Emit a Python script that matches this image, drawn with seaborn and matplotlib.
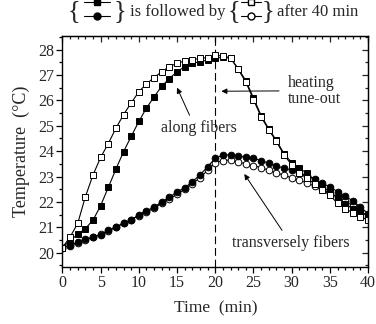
import matplotlib
matplotlib.use("Agg")
import matplotlib.pyplot as plt
from matplotlib.lines import Line2D
from matplotlib.ticker import MultipleLocator
import seaborn as sns

# time axis (min) and temperatures (deg C)
time_min = list(range(41))

along_first = [20.2, 20.48, 20.72, 20.95, 21.28, 21.85, 22.57, 23.29, 23.98, 24.58,
               25.17, 25.7, 26.14, 26.56, 26.86, 27.13, 27.33, 27.46, 27.52, 27.59,
               27.66, 27.7, 27.66, 27.25, 26.78, 26.1, 25.4, 24.88, 24.42, 23.9,
               23.55, 23.33, 23.13, 22.86, 22.6, 22.4, 22.14, 21.91, 21.74, 21.61, 21.44]
along_after = [20.2, 20.62, 21.15, 22.2, 23.06, 23.75, 24.3, 24.9, 25.44, 25.9,
               26.34, 26.65, 26.9, 27.13, 27.33, 27.46, 27.55, 27.59, 27.66, 27.68,
               27.77, 27.75, 27.68, 27.22, 26.72, 26.03, 25.35, 24.84, 24.38, 23.85,
               23.46, 23.13, 22.95, 22.7, 22.47, 22.27, 21.94, 21.74, 21.57, 21.41, 21.28]
trans_first = [20.2, 20.26, 20.42, 20.53, 20.62, 20.71, 20.88, 21.01, 21.17, 21.28,
               21.5, 21.65, 21.8, 22.0, 22.18, 22.4, 22.55, 22.8, 23.06, 23.39,
               23.72, 23.85, 23.85, 23.81, 23.76, 23.72, 23.63, 23.52, 23.42, 23.33,
               23.26, 23.15, 23.02, 22.89, 22.73, 22.6, 22.4, 22.23, 22.04, 21.8, 21.54]
trans_after = [20.2, 20.3, 20.38, 20.5, 20.6, 20.72, 20.85, 21.0, 21.15, 21.3,
               21.45, 21.6, 21.75, 21.95, 22.12, 22.3, 22.5, 22.72, 22.95, 23.25,
               23.55, 23.63, 23.65, 23.58, 23.5, 23.43, 23.35, 23.25, 23.15, 23.05,
               22.95, 22.85, 22.75, 22.62, 22.5, 22.35, 22.2, 22.02, 21.85, 21.65, 21.42]

tune_out_time = 20

sns.set_style("ticks")
plt.rcParams["font.family"] = ["Liberation Serif", "DejaVu Serif"]

fig = plt.figure(figsize=(3.76, 3.24), dpi=100)
ax = fig.add_axes([0.166, 0.177, 0.813, 0.713])

series = [
    (trans_after, "o", "white"),
    (trans_first, "o", "black"),
    (along_first, "s", "black"),
    (along_after, "s", "white"),
]
for values, marker, face in series:
    sns.lineplot(x=time_min, y=values, ax=ax, color="black", lw=0.8,
                 marker=marker, markersize=4.8, markerfacecolor=face,
                 markeredgecolor="black", markeredgewidth=0.7)

ax.axvline(tune_out_time, color="black", lw=0.8, ls=(0, (7, 3.5)), zorder=1)

ax.set_xlim(0, 40)
ax.set_ylim(19.45, 28.55)
ax.xaxis.set_major_locator(MultipleLocator(5))
ax.xaxis.set_minor_locator(MultipleLocator(1))
ax.yaxis.set_major_locator(MultipleLocator(1))
ax.yaxis.set_minor_locator(MultipleLocator(0.5))
ax.tick_params(which="both", direction="out", top=False, right=False,
               labelsize=11.5, width=0.9, color="black", pad=2)
ax.tick_params(which="major", length=4)
ax.tick_params(which="minor", length=2.5)
for s in ax.spines.values():
    s.set_linewidth(1.0)
    s.set_color("black")

top = ax.secondary_xaxis("top")
top.xaxis.set_major_locator(MultipleLocator(5))
top.xaxis.set_minor_locator(MultipleLocator(1))
top.tick_params(which="both", direction="in", labeltop=False, width=0.9)
top.tick_params(which="major", length=4)
top.tick_params(which="minor", length=2.5)
right = ax.secondary_yaxis("right")
right.yaxis.set_major_locator(MultipleLocator(1))
right.yaxis.set_minor_locator(MultipleLocator(0.5))
right.tick_params(which="both", direction="in", labelright=False, width=0.9)
right.tick_params(which="major", length=4)
right.tick_params(which="minor", length=2.5)

ax.set_xlabel("Time  (min)", fontsize=12.5, labelpad=7)
ax.set_ylabel("Temperature  (\u00b0C)", fontsize=13, labelpad=6)

arrow = dict(arrowstyle="-|>", color="black", lw=0.7, mutation_scale=8,
             shrinkA=1, shrinkB=0)
ax.annotate("along fibers", xy=(15.0, 26.5), xytext=(17.9, 24.92),
            ha="center", va="center", fontsize=11.5,
            arrowprops=dict(arrow, relpos=(0.4, 1.0)))
ax.annotate("heating\ntune-out", xy=(20.8, 26.36), xytext=(29.5, 26.38),
            ha="left", va="center", fontsize=11.5, linespacing=1.0,
            arrowprops=dict(arrow, shrinkA=4))
ax.annotate("transversely fibers", xy=(23.8, 23.1), xytext=(29.9, 20.39),
            ha="center", va="center", fontsize=11.5,
            arrowprops=dict(arrow, relpos=(0.45, 1.0)))

# header: { filled } is followed by { open } after 40 min
H = 324.0
W = 376.0
def fx(px):
    return px / W
def fy(py):
    return 1 - py / H

filled = [Line2D([], [], color="black", lw=0.8, marker=m, markersize=5,
                 markerfacecolor="black", markeredgecolor="black") for m in ("s", "o")]
opened = [Line2D([], [], color="black", lw=0.8, marker=m, markersize=5,
                 markerfacecolor="white", markeredgecolor="black") for m in ("s", "o")]
for handles, cx, hl in ((filled, 97, 1.9), (opened, 251, 1.55)):
    fig.legend(handles, ["", ""], loc="center", bbox_to_anchor=(fx(cx), fy(10.5)),
               frameon=False, handlelength=hl, handletextpad=0, borderpad=0,
               labelspacing=0.1, fontsize=9.5, borderaxespad=0)

brace_kw = dict(fontsize=19, va="center", ha="center")
fig.text(fx(74), fy(11), "{", **brace_kw)
fig.text(fx(120), fy(11), "}", **brace_kw)
fig.text(fx(234), fy(11), "{", **brace_kw)
fig.text(fx(268), fy(11), "}", **brace_kw)
fig.text(fx(130), fy(12.5), "is followed by", fontsize=12, va="center", ha="left")
fig.text(fx(277), fy(12.5), "after 40 min", fontsize=12, va="center", ha="left")

fig.savefig("out.png", dpi=100)
